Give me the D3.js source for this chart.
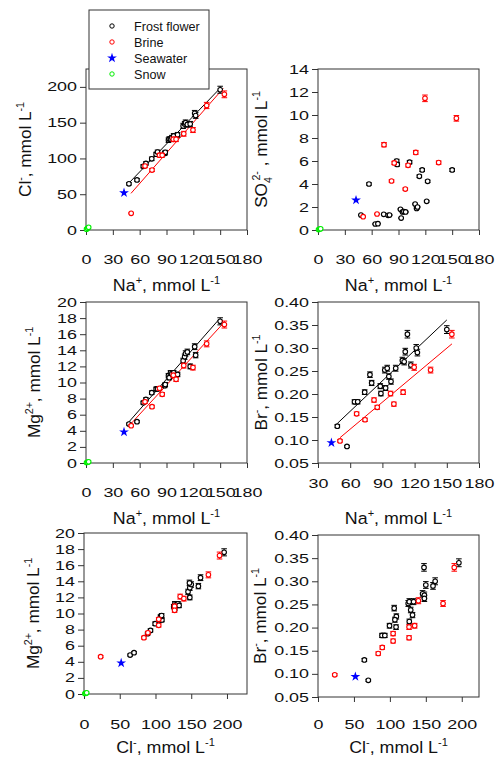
<!DOCTYPE html>
<html>
<head>
<meta charset="utf-8">
<script src="https://cdn.jsdelivr.net/npm/d3@7"></script>
<style>
  body { margin: 0; background: #fff; }
  svg { font-family: "Liberation Sans", Arial, sans-serif; }
</style>
</head>
<body>
<svg id="chart" width="496" height="758"></svg>
<script>
// frost flower samples, sorted by Na+ (mmol L-1)
const frostNa  = [48, 57, 64, 67, 73.5, 78.4, 80, 88, 88.6, 92.2, 93, 94.5, 96, 98, 102.4, 108.6, 110.3, 111.3, 113.3, 116.5, 121.5, 122.6, 150];
const frostCl  = [64.5, 70, 89, 93, 99.5, 106, 109, 107, 108.6, 125.5, 127, 127, 129, 131.5, 133, 145.5, 148, 150, 147.5, 148, 163, 160, 196];
const frostSO4 = [1.30, 4.0, 0.52, 0.55, 1.36, 1.28, 1.3, 6.0, 5.7, 1.8, 1.04, 1.57, 1.6, 1.57, 5.9, 2.26, 1.88, 2.0, 4.67, 5.22, 2.49, 4.23, 5.22];
const frostMg  = [4.84, 5.13, 7.5, 7.9, 8.74, 9.2, 9.2, 9.6, 9.75, 10.85, 10.6, 11.2, 11.1, 11.2, 11.0, 12.7, 13.2, 13.6, 13.8, 12.0, 14.45, 13.4, 17.6];
const frostBr  = [0.130, 0.086, 0.183, 0.183, 0.204, 0.242, 0.224, 0.217, 0.201, 0.252, 0.213, 0.256, 0.238, 0.227, 0.256, 0.273, 0.270, 0.292, 0.330, 0.263, 0.300, 0.290, 0.340];

// brine samples
const brineNa  = [50.5, 66, 73.8, 82.2, 85.2, 97.6, 100.7, 109.3, 119.6, 134.9, 154.7];
const brineCl  = [23.3, 89.4, 83.8, 104.5, 104.5, 126.7, 126.7, 134.5, 139.7, 174, 189.6];
const brineSO4 = [1.16, 1.39, 7.42, 4.26, 5.83, 3.56, 5.62, 6.75, 11.45, 5.86, 9.71];
const brineMg  = [4.64, 7.6, 7.0, 9.28, 8.53, 10.9, 10.4, 12.1, 11.85, 14.8, 17.2];
const brineBr  = [0.098, 0.157, 0.144, 0.187, 0.171, 0.201, 0.178, 0.204, 0.258, 0.252, 0.330];

// seawater and snow
const seaNa = [42.5], seaCl = [52], seaSO4 = [2.6], seaMg = [3.85], seaBr = [0.094];
const snowNa  = [0.6, 1.8, 3.0];
const snowCl  = [1.2, 2.6, 3.8];
const snowSO4 = [0.04, 0.08, 0.1];
const snowMg  = [0.06, 0.1, 0.14];
const snowBr  = [0.001, 0.002, 0.002];

// relative analytical uncertainty used for the error bars
const relErr = 0.025;

// linear fits: y = a + b*x over [from, to]
const fitNaCl = [{ s: 'frost', a: 3.2, b: 1.300, from: 47.3, to: 150.9 },
                 { s: 'brine', a: -20.35, b: 1.4225, from: 50.3, to: 153.5 }];
const fitNaMg = [{ s: 'frost', a: -0.965, b: 0.1265, from: 46.6, to: 148 },
                 { s: 'brine', a: -1.20, b: 0.1209, from: 50, to: 153.5 }];
const fitNaBr = [{ s: 'frost', a: 0.0301, b: 0.002206, from: 48, to: 150 },
                 { s: 'brine', a: 0.00622, b: 0.001956, from: 50.5, to: 154.8 }];

const legendLabels = ['Frost flower', 'Brine', 'Seawater', 'Snow'];

const series = [
    { key: 'frost', label: 'Frost flower', color: '#000', sym: 'circle', err: true,
      Na: frostNa, Cl: frostCl, SO4: frostSO4, Mg: frostMg, Br: frostBr },
    { key: 'brine', label: 'Brine', color: '#ff0000', sym: 'circle', err: true,
      Na: brineNa, Cl: brineCl, SO4: brineSO4, Mg: brineMg, Br: brineBr },
    { key: 'sea', label: 'Seawater', color: '#0000ff', sym: 'star', err: false,
      Na: seaNa, Cl: seaCl, SO4: seaSO4, Mg: seaMg, Br: seaBr },
    { key: 'snow', label: 'Snow', color: '#00ee00', sym: 'circle', err: false,
      Na: snowNa, Cl: snowCl, SO4: snowSO4, Mg: snowMg, Br: snowBr }
];

const seriesColor = d3.scaleOrdinal()
    .domain(series.map(d => d.key))
    .range(series.map(d => d.color));

// title pieces: [text, 'n' | 'sup' | 'sub']
const naTitle  = [['Na', 'n'], ['+', 'sup'], [', mmol L', 'n'], ['-1', 'sup']];
const clTitle  = [['Cl', 'n'], ['-', 'sup'], [', mmol L', 'n'], ['-1', 'sup']];
const so4Title = [['SO', 'n'], ['4', 'sub'], ['2-', 'sup'], [' , mmol L', 'n'], ['-1', 'sup']];
const mgTitle  = [['Mg', 'n'], ['2+', 'sup'], [', mmol L', 'n'], ['-1', 'sup']];
const brTitle  = [['Br', 'n'], ['-', 'sup'], [', mmol L', 'n'], ['-1', 'sup']];

const panels = [
    { x: 'Na', y: 'Cl',  box: [86, 69, 247, 230],   xd: [0, 180], yd: [0, 225],
      xt: d3.range(0, 181, 30), yt: d3.range(0, 201, 50), yf: d3.format('d'),
      fits: fitNaCl, xTitle: naTitle, yTitle: clTitle, yTx: 31, xTy: 291, xlab: 30 },
    { x: 'Na', y: 'SO4', box: [318, 69, 479, 230],  xd: [0, 180], yd: [0, 14],
      xt: d3.range(0, 181, 30), yt: d3.range(0, 15, 2), yf: d3.format('d'),
      fits: [], xTitle: naTitle, yTitle: so4Title, yTx: 267, xTy: 291, xlab: 30 },
    { x: 'Na', y: 'Mg',  box: [86, 302, 247, 463],  xd: [0, 180], yd: [0, 20],
      xt: d3.range(0, 181, 30), yt: d3.range(0, 21, 2), yf: d3.format('d'),
      fits: fitNaMg, xTitle: naTitle, yTitle: mgTitle, yTx: 40, xTy: 524, xlab: 30 },
    { x: 'Na', y: 'Br',  box: [318, 302, 479, 463], xd: [30, 180], yd: [0.05, 0.40],
      xt: d3.range(30, 181, 30), yt: d3.range(0.05, 0.401, 0.05), yf: d3.format('.2f'),
      fits: fitNaBr, xTitle: naTitle, yTitle: brTitle, yTx: 267, xTy: 524, xlab: 21 },
    { x: 'Cl', y: 'Mg',  box: [84, 533, 247, 694],  xd: [0, 228], yd: [0, 20],
      xt: d3.range(0, 201, 50), yt: d3.range(0, 21, 2), yf: d3.format('d'),
      fits: [], xTitle: clTitle, yTitle: mgTitle, yTx: 39, xTy: 753, xlab: 31 },
    { x: 'Cl', y: 'Br',  box: [318, 535, 479, 697], xd: [0, 224], yd: [0.05, 0.40],
      xt: d3.range(0, 201, 50), yt: d3.range(0.05, 0.401, 0.05), yf: d3.format('.2f'),
      fits: [], xTitle: clTitle, yTitle: brTitle, yTx: 266, xTy: 753, xlab: 28 }
];

const svg = d3.select('#chart');
const tickScale = 1.42;   // tick numerals in the figure are drawn wide

function addTitle(sel, x, y, rotate, parts, size, sx) {
    const t = sel.append('text')
        .attr('font-size', size)
        .attr('text-anchor', 'middle')
        .attr('fill', '#111')
        .attr('transform', `translate(${x},${y})` + (rotate ? ' rotate(-90)' : '') + ` scale(${sx},1)`);
    let shift = 0;
    parts.forEach(([txt, kind]) => {
        let target = 0;
        if (kind === 'sup') target = -0.42 * size;
        if (kind === 'sub') target = 0.28 * size;
        const ts = t.append('tspan')
            .attr('dy', target - shift)
            .attr('font-size', kind === 'n' ? size : size * 0.62)
            .text(txt);
        if (kind === 'sup' && shift > 0) ts.attr('dx', -size * 0.2);
        shift = target;
    });
    return t;
}

panels.forEach(p => {
    const [x0, y0, x1, y1] = p.box;
    const xs = d3.scaleLinear().domain(p.xd).range([x0, x1]);
    const ys = d3.scaleLinear().domain(p.yd).range([y1, y0]);
    const g = svg.append('g');

    // axes
    const xAxis = g.append('g')
        .attr('transform', `translate(0,${y1})`)
        .call(d3.axisBottom(xs).tickValues(p.xt).tickSize(5).tickPadding(p.xlab - 10).tickSizeOuter(0));
    const yAxis = g.append('g')
        .attr('transform', `translate(${x0},0)`)
        .call(d3.axisLeft(ys).tickValues(p.yt).tickFormat(p.yf).tickSize(6).tickSizeOuter(0));
    [xAxis, yAxis].forEach(a => {
        a.select('.domain').remove();
        a.selectAll('line').attr('stroke', '#333');
        a.selectAll('text').attr('font-size', 12.6).attr('fill', '#111')
            .attr('font-family', '"Liberation Sans", Arial, sans-serif');
    });
    xAxis.selectAll('text').attr('transform', `scale(${tickScale},1)`);
    yAxis.selectAll('text').attr('x', -9 / tickScale).attr('transform', `scale(${tickScale},1)`);

    // frame
    g.append('rect')
        .attr('x', x0).attr('y', y0)
        .attr('width', x1 - x0).attr('height', y1 - y0)
        .attr('fill', 'none').attr('stroke', '#333').attr('stroke-width', 1);

    // fitted lines
    p.fits.forEach(f => {
        g.append('path')
            .datum([f.from, f.to])
            .attr('d', d3.line().x(v => xs(v)).y(v => ys(f.a + f.b * v)))
            .attr('stroke', seriesColor(f.s))
            .attr('stroke-width', 1)
            .attr('fill', 'none');
    });

    // points
    series.forEach(s => {
        const pts = s[p.x].map((v, i) => ({ x: v, y: s[p.y][i] }))
            .filter(d => d.x >= p.xd[0] && d.y >= p.yd[0]);
        const pg = g.append('g').attr('stroke', s.color).attr('fill', 'none');

        if (s.err) {
            pts.forEach(d => {
                const lo = ys(d.y * (1 - relErr)), hi = ys(d.y * (1 + relErr));
                const cx = xs(d.x);
                pg.append('line').attr('x1', cx).attr('x2', cx).attr('y1', lo).attr('y2', hi);
                pg.append('line').attr('x1', cx - 2.8).attr('x2', cx + 2.8).attr('y1', lo).attr('y2', lo);
                pg.append('line').attr('x1', cx - 2.8).attr('x2', cx + 2.8).attr('y1', hi).attr('y2', hi);
            });
        }
        if (s.sym === 'star') {
            pg.selectAll('path.pt').data(pts).join('path')
                .attr('class', 'pt')
                .attr('d', d3.symbol(d3.symbolStar, 30))
                .attr('transform', d => `translate(${xs(d.x)},${ys(d.y)})`)
                .attr('fill', s.color).attr('stroke', 'none');
        } else {
            pg.selectAll('circle').data(pts).join('circle')
                .attr('cx', d => xs(d.x))
                .attr('cy', d => ys(d.y))
                .attr('r', 2.3)
                .attr('fill', '#fff')
                .attr('stroke-width', 1.1);
        }
    });

    // titles
    addTitle(svg, (x0 + x1) / 2, p.xTy, false, p.xTitle, 16.5, 1.08);
    addTitle(svg, p.yTx, (y0 + y1) / 2, true, p.yTitle, 16.5, 1.04);
});

// legend
const lg = svg.append('g');
lg.append('rect')
    .attr('x', 89).attr('y', 10).attr('width', 120).attr('height', 79)
    .attr('fill', '#fff').attr('stroke', '#333').attr('stroke-width', 1);
const ly = d3.scalePoint().domain(legendLabels).range([26, 74]);
series.forEach(s => {
    const yy = ly(s.label);
    if (s.sym === 'star') {
        lg.append('path').attr('d', d3.symbol(d3.symbolStar, 30))
            .attr('transform', `translate(112,${yy})`).attr('fill', s.color);
    } else {
        lg.append('circle').attr('cx', 112).attr('cy', yy).attr('r', 2.2)
            .attr('fill', '#fff').attr('stroke', s.color).attr('stroke-width', 1);
    }
    lg.append('text').attr('x', 134).attr('y', yy).attr('dy', '0.36em')
        .attr('font-size', 12.6).attr('fill', '#111').text(s.label);
});
</script>
</body>
</html>
